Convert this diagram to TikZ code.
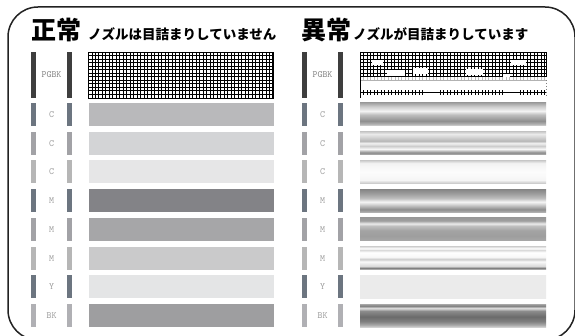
\documentclass[tikz,border=0pt]{standalone}
\usepackage{fontspec}
\newfontfamily\jpfont{Noto Sans CJK JP}

\definecolor{framegray}{HTML}{222222}
\definecolor{lblgray}{HTML}{9A9A9A}
\definecolor{pgbar}{HTML}{3E3E3E}
\definecolor{barA}{HTML}{6C7580}
\definecolor{barB}{HTML}{A2A2A6}
\definecolor{barC}{HTML}{B6B6B6}
\definecolor{barD}{HTML}{B0B0B4}
\definecolor{okC1}{HTML}{B9B9BB}
\definecolor{okC2}{HTML}{D3D4D6}
\definecolor{okC3}{HTML}{E6E6E7}
\definecolor{okM1}{HTML}{838387}
\definecolor{okM2}{HTML}{A6A6A8}
\definecolor{okM3}{HTML}{CACACB}
\definecolor{okY}{HTML}{E4E5E6}
\definecolor{okBK}{HTML}{9E9EA0}

% banded shadings of the clogged rows (25bp = bottom, 75bp = top)
\pgfdeclareverticalshading{ngC1}{100bp}{gray(0bp)=(.86); gray(25bp)=(.86); gray(30bp)=(.68);
  gray(36bp)=(.56); gray(50bp)=(.75); gray(57.5bp)=(.95); gray(67.5bp)=(.80); gray(75bp)=(.64); gray(100bp)=(.64)}
\pgfdeclareverticalshading{ngC2}{100bp}{gray(0bp)=(.80); gray(25bp)=(.80); gray(27.5bp)=(.55);
  gray(31bp)=(.62); gray(37.5bp)=(.97); gray(44bp)=(.80); gray(50bp)=(.95); gray(55bp)=(.72);
  gray(62.5bp)=(.82); gray(70bp)=(.92); gray(75bp)=(.80); gray(100bp)=(.80)}
\pgfdeclareverticalshading{ngC3}{100bp}{gray(0bp)=(.78); gray(25bp)=(.78); gray(32.5bp)=(.96);
  gray(50bp)=(.99); gray(69bp)=(.95); gray(75bp)=(.80); gray(100bp)=(.80)}
\pgfdeclareverticalshading{ngM1}{100bp}{gray(0bp)=(.70); gray(25bp)=(.70); gray(31bp)=(.55);
  gray(40bp)=(.78); gray(47.5bp)=(.96); gray(55bp)=(.75); gray(65bp)=(.62); gray(75bp)=(.52); gray(100bp)=(.52)}
\pgfdeclareverticalshading{ngM2}{100bp}{gray(0bp)=(.66); gray(25bp)=(.66); gray(35bp)=(.62);
  gray(47.5bp)=(.64); gray(57.5bp)=(.75); gray(62.5bp)=(.92); gray(69bp)=(.62); gray(75bp)=(.60); gray(100bp)=(.60)}
\pgfdeclareverticalshading{ngM3}{100bp}{gray(0bp)=(.75); gray(25bp)=(.75); gray(28.5bp)=(.50);
  gray(32.5bp)=(.85); gray(42.5bp)=(.98); gray(47.5bp)=(.80); gray(52.5bp)=(.97); gray(62.5bp)=(1);
  gray(67.5bp)=(.85); gray(71bp)=(1); gray(75bp)=(.85); gray(100bp)=(.85)}
\pgfdeclareverticalshading{ngY}{100bp}{gray(0bp)=(.92); gray(100bp)=(.92)}
\pgfdeclareverticalshading{ngBK}{100bp}{gray(0bp)=(.82); gray(25bp)=(.82); gray(30bp)=(.65);
  gray(37.5bp)=(.50); gray(47.5bp)=(.42); gray(60bp)=(.55); gray(66bp)=(.88); gray(71bp)=(.50);
  gray(75bp)=(.65); gray(100bp)=(.65)}

\tikzset{
  frameline/.style={draw=framegray, line width=1.5pt, rounded corners=30pt},
  ttl/.style={font=\jpfont\bfseries\fontsize{25}{25}\selectfont, anchor=base west, inner sep=0pt},
  subttl/.style={font=\jpfont\bfseries\fontsize{13.5}{13.5}\selectfont, anchor=base west, inner sep=0pt},
  nozlbl/.style={font=\ttfamily\fontsize{9.5}{9.5}\selectfont, text=lblgray, inner sep=0pt},
  gridline/.style={black, line width=0.9pt},
}

\begin{document}
\begin{tikzpicture}[x=1pt, y=-1pt]
    \useasboundingbox (0,0) rectangle (575,336);
    \fill[white] (0,0) rectangle (575,336);

    \draw[frameline] (8,7) rectangle (575,340);

    % titles
    \node[ttl] (okttl) at (31,39.5) {正常};
    \node[subttl] (oksub) at (88,39.5) {ノズルは目詰まりしていません};
    \node[ttl] (ngttl) at (301,39.5) {異常};
    \node[subttl] (ngsub) at (353,39.5) {ノズルが目詰まりしています};

    % PGBK rows
    \fill[pgbar] (31,52) rectangle (36,98);
    \fill[pgbar] (67,52) rectangle (72,98);
    \node[nozlbl, text=gray] (okpg) at (51.5,75) {PGBK};
    \fill[pgbar] (302,52) rectangle (307,98);
    \fill[pgbar] (338,52) rectangle (343,98);
    \node[nozlbl, text=gray] (ngpg) at (322.5,75) {PGBK};

    \begin{scope}[shift={(88.5,98)}, y=1pt]
        \draw[gridline] (0,0) grid[xstep=3.48, ystep=3.54] (184.5,46.02);
        \draw[gridline] (0,0) rectangle (184.5,46.02);
    \end{scope}

    \begin{scope}[shift={(360,76.8)}, y=1pt]
        \draw[gridline] (0,0) grid[xstep=3.48, ystep=3.54] (186,24.78);
        \draw[gridline] (0,0) rectangle (186,24.78);
    \end{scope}
    \fill[white] (372,60) rectangle (383,65.5);
    \fill[white] (387,70) rectangle (405,76);
    \fill[white] (413,68) rectangle (428,74);
    \fill[white] (466,69) rectangle (483,75);
    \fill[white] (511,60) rectangle (526,65);
    \fill[white] (503,74) rectangle (510,80);
    \draw[gray!60, line width=0.7pt] (360,80) -- (546,80);
    \foreach \k in {0,...,53}
        \draw[gray!50, line width=0.6pt] (360+3.48*\k,77) -- (360+3.48*\k,80);
    \draw[black, line width=0.8pt] (360,52) -- (360,98);
    \draw[black, line width=0.7pt] (360,92.5) -- (546,92.5);
    \foreach \k in {0,1,...,18,23,24,...,41,46,47,...,53}
        \draw[black, line width=0.6pt] (360+3.48*\k,90.5) -- (360+3.48*\k,95);
    \draw[gray, line width=0.7pt, dash pattern=on 1.5pt off 1.5pt] (546,80) -- (546,98);

    % colour rows
    \foreach \lbl/\barc/\okc/\ngs [count=\i from 0] in {C/barA/okC1/ngC1, C/barB/okC2/ngC2,
        C/barC/okC3/ngC3, M/barA/okM1/ngM1, M/barB/okM2/ngM2, M/barC/okM3/ngM3,
        Y/barA/okY/ngY, BK/barD/okBK/ngBK}{
        \pgfmathsetmacro\rowtop{103+28.72*\i}
        \pgfmathsetmacro\rowbot{\rowtop+23}
        \pgfmathsetmacro\rowmid{\rowtop+11.5}
        \fill[\barc] (31,\rowtop) rectangle (36,\rowbot);
        \fill[\barc] (67,\rowtop) rectangle (72,\rowbot);
        \node[nozlbl] (okl\i) at (51.5,\rowmid) {\lbl};
        \fill[\okc] (88.5,\rowtop) rectangle (273.5,\rowbot);
        \fill[\barc] (302,\rowtop) rectangle (307,\rowbot);
        \fill[\barc] (338,\rowtop) rectangle (343,\rowbot);
        \node[nozlbl] (ngl\i) at (322.5,\rowmid) {\lbl};
        \shade[shading=\ngs] (360,\rowtop) rectangle (546,\rowbot);
    }
\end{tikzpicture}
\end{document}
